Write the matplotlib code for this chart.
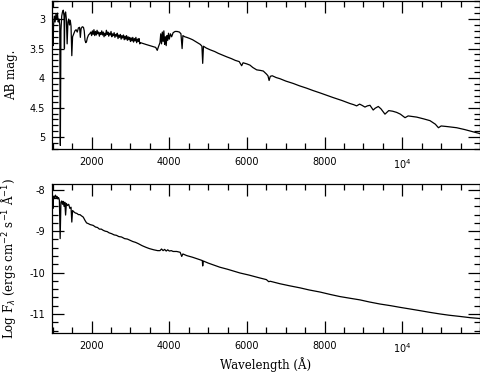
# spectrum_panels.py - AB magnitude and log flux vs wavelength

import matplotlib
matplotlib.use("Agg")
import matplotlib.pyplot as plt
from matplotlib.ticker import FixedLocator, MultipleLocator, FixedFormatter, FuncFormatter

# --- top panel: AB magnitude -------------------------------------------
wave_mag = [
    980, 1000, 1010, 1020, 1040, 1060, 1080, 1100, 1120, 1140, 1160, 1180,
    1195, 1210, 1230, 1250, 1270, 1290, 1300, 1310, 1330, 1350, 1370, 1390,
    1410, 1430, 1450, 1470, 1490, 1510, 1540, 1570, 1600, 1630, 1660, 1690,
    1710, 1730, 1760, 1790, 1810, 1830, 1850, 1870, 1890, 1920, 1950, 1980,
    2000, 2020, 2040, 2060, 2080, 2100, 2120, 2140, 2160, 2180, 2200, 2220,
    2240, 2260, 2280, 2300, 2320, 2340, 2360, 2380, 2400, 2420, 2440, 2460,
    2480, 2500, 2520, 2540, 2560, 2580, 2600, 2620, 2640, 2660, 2680, 2700,
    2720, 2740, 2760, 2780, 2800, 2820, 2840, 2860, 2880, 2900, 2920, 2940,
    2960, 2980, 3000, 3020, 3040, 3060, 3080, 3100, 3120, 3140, 3160, 3180,
    3200, 3220, 3240, 3260, 3400, 3550, 3650, 3690, 3720, 3760, 3780, 3800,
    3820, 3840, 3860, 3880, 3900, 3920, 3940, 3960, 3980, 4000, 4030, 4060,
    4100, 4150, 4200, 4260, 4300, 4330, 4350, 4400, 4450, 4530, 4600, 4700,
    4800, 4840, 4860, 4880, 4950, 5050, 5170, 5260, 5370, 5480, 5600, 5700,
    5800, 5863, 5900, 6000, 6077, 6150, 6250, 6350, 6420, 6500, 6540, 6570,
    6600, 6650, 6750, 6850, 7000, 7190, 7350, 7535, 7700, 7880, 8050, 8222,
    8450, 8652, 8750, 8824, 8900, 8960, 9038, 9100, 9167, 9250, 9300, 9381,
    9450, 9553, 9650, 9750, 9853, 9950, 10070, 10150, 10370, 10550, 10712,
    10850, 10930, 11000, 11150, 11400, 11600, 11830, 12000,
]
ab_mag = [
    3.45, 3.30, 3.45, 3.10, 2.95, 3.05, 2.92, 3.00, 2.90, 3.05, 3.00, 3.10,
    5.14, 3.20, 2.95, 2.88, 2.85, 2.95, 3.50, 2.92, 2.88, 3.00, 3.42, 3.05,
    3.00, 3.10, 3.02, 3.12, 3.62, 3.30, 3.25, 3.20, 3.18, 3.22, 3.15, 3.14,
    3.31, 3.16, 3.13, 3.14, 3.20, 3.36, 3.40, 3.38, 3.32, 3.27, 3.25, 3.22,
    3.28, 3.20, 3.26, 3.18, 3.28, 3.21, 3.27, 3.19, 3.25, 3.22, 3.29, 3.23,
    3.26, 3.20, 3.27, 3.22, 3.30, 3.24, 3.28, 3.19, 3.26, 3.22, 3.29, 3.24,
    3.27, 3.21, 3.30, 3.25, 3.28, 3.23, 3.31, 3.26, 3.29, 3.24, 3.33, 3.27,
    3.31, 3.26, 3.34, 3.28, 3.32, 3.27, 3.35, 3.29, 3.34, 3.28, 3.36, 3.30,
    3.35, 3.31, 3.38, 3.32, 3.37, 3.31, 3.39, 3.33, 3.37, 3.31, 3.40, 3.34,
    3.38, 3.33, 3.42, 3.40, 3.43, 3.46, 3.48, 3.53, 3.47, 3.40, 3.25, 3.42,
    3.22, 3.38, 3.20, 3.43, 3.30, 3.45, 3.28, 3.36, 3.24, 3.34, 3.25, 3.30,
    3.23, 3.21, 3.21, 3.22, 3.25, 3.50, 3.28, 3.30, 3.31, 3.33, 3.35, 3.39,
    3.43, 3.46, 3.75, 3.46, 3.49, 3.52, 3.55, 3.58, 3.61, 3.64, 3.67, 3.70,
    3.72, 3.79, 3.74, 3.76, 3.78, 3.82, 3.86, 3.87, 3.88, 3.93, 3.96, 4.04,
    3.97, 3.96, 3.99, 4.01, 4.05, 4.09, 4.13, 4.17, 4.21, 4.25, 4.29, 4.33,
    4.38, 4.43, 4.45, 4.47, 4.44, 4.46, 4.49, 4.47, 4.46, 4.54, 4.51, 4.48,
    4.52, 4.61, 4.55, 4.56, 4.58, 4.61, 4.67, 4.64, 4.66, 4.69, 4.72,
    4.78, 4.84, 4.81, 4.82, 4.84, 4.87, 4.91, 4.94,
]

# --- bottom panel: log flux --------------------------------------------
wave_flux = [
    980, 995, 1005, 1015, 1030, 1050, 1070, 1090, 1110, 1130, 1150, 1170,
    1190, 1210, 1230, 1250, 1270, 1290, 1310, 1330, 1350, 1380, 1410, 1440,
    1470, 1490, 1510, 1540, 1580, 1620, 1660, 1700, 1740, 1785, 1830, 1870,
    1920, 1960, 2000, 2040, 2100, 2150, 2200, 2250, 2300, 2350, 2400, 2450,
    2515, 2580, 2640, 2700, 2770, 2850, 2920, 2990, 3060, 3130, 3200, 3300,
    3400, 3485, 3600, 3700, 3760, 3800, 3840, 3880, 3920, 3960, 4000, 4050,
    4100, 4190, 4280, 4320, 4350, 4450, 4600, 4790, 4850, 4860, 4875, 5000,
    5150, 5300, 5500, 5820, 6050, 6330, 6500, 6560, 6600, 6850, 7100, 7370,
    7600, 7880, 8150, 8395, 8650, 8910, 9150, 9425, 9700, 9940, 10200, 10455,
    10700, 10970, 11200, 11485, 11750, 12000,
]
log_flux = [
    -8.37, -8.20, -8.45, -8.25, -8.15, -8.20, -8.13, -8.18, -8.16, -8.22, -8.19, -8.25,
    -9.18, -8.30, -8.27, -8.35, -8.28, -8.40, -8.30, -8.61, -8.33, -8.38, -8.35, -8.45,
    -8.42, -8.78, -8.50, -8.53, -8.56, -8.57, -8.60, -8.60, -8.63, -8.66, -8.74, -8.80,
    -8.82, -8.84, -8.85, -8.86, -8.90, -8.91, -8.95, -8.95, -8.98, -9.00, -9.01, -9.04,
    -9.06, -9.09, -9.10, -9.13, -9.14, -9.18, -9.19, -9.22, -9.25, -9.27, -9.30, -9.35,
    -9.39, -9.42, -9.45, -9.47, -9.47, -9.43, -9.47, -9.44, -9.48, -9.45, -9.48, -9.47,
    -9.49, -9.49, -9.51, -9.61, -9.55, -9.59, -9.63, -9.69, -9.71, -9.84, -9.72, -9.77,
    -9.82, -9.87, -9.92, -10.01, -10.06, -10.13, -10.17, -10.22, -10.21, -10.27, -10.32, -10.37,
    -10.42, -10.47, -10.53, -10.58, -10.62, -10.66, -10.71, -10.76, -10.80, -10.84, -10.88, -10.92,
    -10.96, -11.00, -11.03, -11.06, -11.09, -11.11,
]

x_ticks = [2000, 4000, 6000, 8000, 10000]
x_tick_labels = ["2000", "4000", "6000", "8000", r"$10^4$"]

plt.rcParams["mathtext.fontset"] = "dejavusans"
plt.rcParams["axes.unicode_minus"] = False
label_font = {"family": "DejaVu Serif", "size": 8.5}


def short_num(v, pos):
    return f"{v:g}"


def style_axes(ax, y_major, y_minor):
    ax.set_xlim(980, 12000)
    ax.xaxis.set_major_locator(FixedLocator(x_ticks))
    ax.xaxis.set_major_formatter(FixedFormatter(x_tick_labels))
    ax.xaxis.set_minor_locator(MultipleLocator(500))
    ax.yaxis.set_major_locator(MultipleLocator(y_major))
    ax.yaxis.set_minor_locator(MultipleLocator(y_minor))
    ax.yaxis.set_major_formatter(FuncFormatter(short_num))
    ax.tick_params(which="both", direction="in", top=True, right=True,
                   width=0.9, labelsize=7)
    ax.tick_params(which="major", length=8.5)
    ax.tick_params(which="minor", length=4.5)
    ax.tick_params(axis="x", pad=6)
    ax.tick_params(axis="y", pad=5)
    for sp in ax.spines.values():
        sp.set_linewidth(0.9)


fig = plt.figure(figsize=(4.81, 3.74), dpi=100)
ax1 = fig.add_axes([52 / 481, 1 - 149 / 374, 428 / 481, 149 / 374 - 0.002])
ax2 = fig.add_axes([52 / 481, 1 - 333 / 374, 428 / 481, 149 / 374])

ax1.plot(wave_mag, ab_mag, color="black", lw=0.9)
ax1.set_ylim(5.2, 2.69)
style_axes(ax1, 0.5, 0.1)
ax1.set_ylabel("AB mag.", fontdict=label_font)
ax1.yaxis.set_label_coords(-0.079, 0.5)

ax2.plot(wave_flux, log_flux, color="black", lw=0.9)
ax2.set_ylim(-11.46, -7.86)
style_axes(ax2, 1, 0.2)
ax2.set_ylabel(r"Log F$_\lambda$ (ergs cm$^{-2}$ s$^{-1}$ Å$^{-1}$)", fontdict=label_font)
ax2.yaxis.set_label_coords(-0.079, 0.5)
ax2.set_xlabel("Wavelength (Å)", fontdict=label_font)
ax2.xaxis.set_label_coords(0.5, -0.165)

fig.savefig("out.png", dpi=100)
